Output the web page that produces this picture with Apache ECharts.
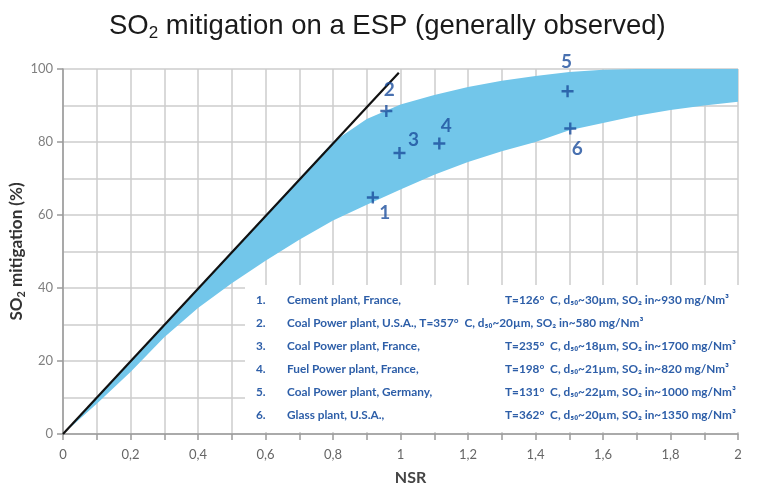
<!DOCTYPE html>
<html>
<head>
<meta charset="utf-8">
<script src="https://cdn.jsdelivr.net/npm/echarts@6/dist/echarts.min.js"></script>
<style>html,body{margin:0;padding:0;background:#fff}#chart{width:761px;height:490px}</style>
</head>
<body>
<div id="chart"></div>
<script>
// band edges, every 0.1 NSR
const nsr = [0, 0.1, 0.2, 0.3, 0.4, 0.5, 0.6, 0.7, 0.8, 0.9, 1.0, 1.1, 1.2, 1.3, 1.4, 1.5, 1.6, 1.7, 1.8, 1.9, 2.0];
const bandUpper = [0, 10, 20, 30, 40, 50, 60, 70, 80, 86.3, 90.3, 92.9, 95.1, 96.8, 98.1, 99.2, 99.8, 100, 100, 100, 100];
const bandLower = [0, 8.3, 17, 26.5, 34.5, 41.3, 47.5, 53.2, 58.5, 62.8, 67, 71, 74.5, 77.5, 80, 83.2, 85.2, 87.2, 88.8, 90, 91];

// theoretical line
const lineX = [0, 0.995];
const lineY = [0, 99];

// observed plants
const pointNames = ['1', '2', '3', '4', '5', '6'];
const pointX = [0.918, 0.958, 0.997, 1.115, 1.495, 1.503];
const pointY = [64.8, 88.5, 77, 79.6, 93.9, 83.7];

const legendNum = ['1.', '2.', '3.', '4.', '5.', '6.'];
const legendName = [
  'Cement plant, France,',
  'Coal Power plant, U.S.A., T=357°  C, d₅₀~20µm, SO₂ in~580 mg/Nm³',
  'Coal Power plant, France,',
  'Fuel Power plant, France,',
  'Coal Power plant, Germany,',
  'Glass plant, U.S.A.,'
];
const legendParams = [
  'T=126°  C, d₅₀~30µm, SO₂ in~930 mg/Nm³',
  '',
  'T=235°  C, d₅₀~18µm, SO₂ in~1700 mg/Nm³',
  'T=198°  C, d₅₀~21µm, SO₂ in~820 mg/Nm³',
  'T=131°  C, d₅₀~22µm, SO₂ in~1000 mg/Nm³',
  'T=362°  C, d₅₀~20µm, SO₂ in~1350 mg/Nm³'
];

// label placement around each cross (pixels)
const labelOffsets = [[12, 15], [3, -21], [14, -13], [7, -18], [-1, -29], [7, 20]];

let chart = echarts.init(document.getElementById('chart'));

const gridColor = '#cdcdcd';
const blue = '#1c4e9c';
const legendBlue = '#2d5ea8';
const legendFont = 'bold 11.8px Lato';

let legendEls = [];
legendNum.forEach((n, i) => {
  let y = 301 + i * 23;
  legendEls.push({ type: 'text', left: 256, top: y - 7, z: 21,
    style: { text: n, fill: legendBlue, font: legendFont } });
  legendEls.push({ type: 'text', left: 287, top: y - 7, z: 21,
    style: { text: legendName[i], fill: legendBlue, font: legendFont } });
  if (legendParams[i]) {
    legendEls.push({ type: 'text', left: 505, top: y - 7, z: 21,
      style: { text: legendParams[i], fill: legendBlue, font: legendFont } });
  }
});

let option = {
  animation: false,
  title: {
    text: '{a|SO}{s|2}{a| mitigation on a ESP (generally observed)}',
    left: 104,
    top: 5,
    textStyle: {
      rich: {
        a: { fontFamily: 'Liberation Sans', fontWeight: 'normal', fontSize: 27.5, color: '#1a1a1a' },
        s: { fontFamily: 'Liberation Sans', fontWeight: 'normal', fontSize: 17, color: '#1a1a1a', padding: [15, 0, 0, 0] }
      }
    }
  },
  grid: { left: 63, right: 23, top: 69, bottom: 56, outerBoundsMode: 'none', containLabel: false },
  xAxis: {
    type: 'value',
    min: 0, max: 2, interval: 0.1,
    name: 'NSR',
    nameLocation: 'middle',
    nameGap: 36,
    nameMoveOverlap: false,
    nameTextStyle: { fontFamily: 'Lato', fontWeight: 'bold', fontSize: 16, color: '#444', padding: [0, 0, 0, 20] },
    axisLine: { lineStyle: { color: '#9a9a9a', width: 1.5 } },
    axisTick: { length: 6, lineStyle: { color: '#9a9a9a', width: 1.5 } },
    axisLabel: {
      margin: 14, fontFamily: 'Lato', fontSize: 13, color: '#666',
      formatter: (v) => {
        let k = Math.round(v * 10);
        return k % 2 === 0 ? String(k / 10).replace('.', ',') : '';
      }
    },
    splitLine: { show: true, lineStyle: { color: gridColor, width: 1.5 } }
  },
  yAxis: {
    type: 'value',
    min: 0, max: 100, interval: 20,
    name: '{a|SO}{s|2}{a| mitigation (%)}',
    nameLocation: 'middle',
    nameGap: 36,
    nameMoveOverlap: false,
    nameTextStyle: {
      rich: {
        a: { fontFamily: 'Lato', fontWeight: 'bold', fontSize: 17, color: '#333' },
        s: { fontFamily: 'Lato', fontWeight: 'bold', fontSize: 11, color: '#333', padding: [9, 0, 0, 0] }
      }
    },
    axisLine: { show: true, lineStyle: { color: '#9a9a9a', width: 1.5 } },
    axisTick: { show: true, length: 6, lineStyle: { color: '#9a9a9a', width: 1.5 } },
    axisLabel: { margin: 10, fontFamily: 'Lato', fontSize: 13, color: '#808080' },
    minorTick: { show: false, splitNumber: 2 },
    splitLine: { lineStyle: { color: gridColor, width: 1.5 } },
    minorSplitLine: { show: true, lineStyle: { color: gridColor, width: 1.5 } }
  },
  graphic: [
    { type: 'rect', left: 245, top: 285, z: 20, shape: { width: 510, height: 147 }, style: { fill: '#fff' } },
    ...legendEls
  ],
  series: [
    {
      type: 'custom',
      name: 'band',
      clip: true,
      z: 2,
      data: nsr.map((x, i) => [x, bandUpper[i], bandLower[i]]),
      encode: { x: 0, y: [1, 2] },
      renderItem: (params, api) => {
        if (params.dataIndex !== 0) return null;
        let pts = [];
        nsr.forEach((x, i) => pts.push(api.coord([x, bandUpper[i]])));
        for (let i = nsr.length - 1; i >= 0; i--) pts.push(api.coord([nsr[i], bandLower[i]]));
        return {
          type: 'polygon',
          shape: { points: pts },
          style: { fill: '#72c6ea' }
        };
      }
    },
    {
      type: 'line',
      name: 'line',
      z: 5,
      symbol: 'none',
      data: lineX.map((x, i) => [x, lineY[i]]),
      lineStyle: { color: '#111', width: 2.2 }
    },
    {
      type: 'scatter',
      name: 'plants',
      z: 6,
      symbol: 'path://M4,0h2v4h4v2h-4v4h-2v-4h-4v-2h4z',
      symbolSize: 12,
      itemStyle: { color: blue },
      data: pointX.map((x, i) => ({
        value: [x, pointY[i]],
        label: {
          show: true, position: 'inside', offset: labelOffsets[i],
          formatter: pointNames[i], fontFamily: 'Lato', fontWeight: 'bold', fontSize: 19, color: blue
        }
      }))
    }
  ]
};

chart.setOption(option);
</script>
</body>
</html>
